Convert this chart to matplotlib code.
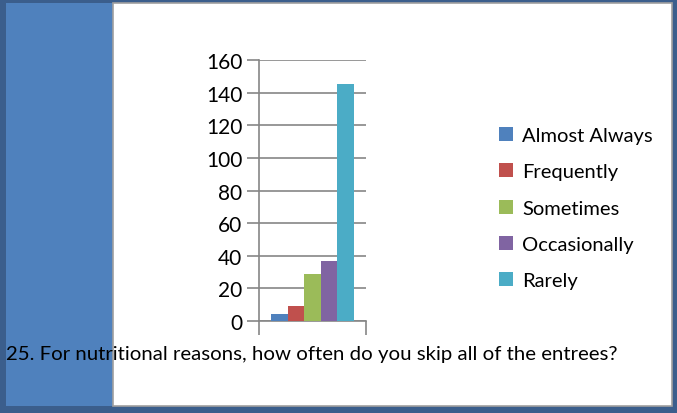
import matplotlib
matplotlib.use("Agg")
import matplotlib.pyplot as plt
from matplotlib.patches import Rectangle

categories = ["Almost Always", "Frequently", "Sometimes", "Occasionally", "Rarely"]
values = [4, 9, 29, 37, 145]
colors = ["#4F81BD", "#C0504D", "#9BBB59", "#8064A2", "#4BACC6"]
yticks = [0, 20, 40, 60, 80, 100, 120, 140, 160]
title = "25. For nutritional reasons, how often do you skip all of the entrees?"

plt.rcParams['font.family'] = ['Lato', 'DejaVu Sans']

W, H = 677, 414
fig = plt.figure(figsize=(W / 100, H / 100), dpi=100)
fig.patch.set_facecolor("#3B5E8C")

def rect(x0, y0, x1, y1, **kw):
    fig.patches.append(Rectangle((x0 / W, 1 - y1 / H), (x1 - x0) / W, (y1 - y0) / H,
                                 transform=fig.transFigure, figure=fig, zorder=-5, **kw))

rect(6, 4, 113, 407, facecolor="#4F81BD", edgecolor="none")
rect(113, 4, 672, 407, facecolor="white", edgecolor="#A0A0A0", linewidth=1.2)

ax = fig.add_axes([259 / W, 1 - 322 / H, 107 / W, 261 / H])
ax.set_zorder(2)
ax.set_facecolor("none")
bw = 0.155
n = len(values)
for i, (c, v, col) in enumerate(zip(categories, values, colors)):
    ax.bar((i - (n - 1) / 2) * bw, v, width=bw, color=col, label=c, zorder=3)

ax.set_xlim(-0.5, 0.5)
ax.set_ylim(0, 160)
ax.set_yticks(yticks)
ax.set_yticklabels([str(t) for t in yticks], fontsize=15)
ax.set_xticks([-0.5, 0.5])
ax.set_xticklabels(["", ""])
ax.tick_params(axis="y", direction="out", length=9, width=1.2, color="#868686", pad=3)
ax.tick_params(axis="x", direction="out", length=10, width=1.2, color="#868686")
ax.yaxis.grid(True, color="#868686", linewidth=1.2, zorder=0)
for s in ["top", "right"]:
    ax.spines[s].set_visible(False)
for s in ["left", "bottom"]:
    ax.spines[s].set_color("#868686")
    ax.spines[s].set_linewidth(1.2)

handles, labels = ax.get_legend_handles_labels()
fig.legend(handles, labels, loc="upper left", bbox_to_anchor=(481 / W, 1 - 110 / H),
           frameon=False, fontsize=14.5, handlelength=0.7, handleheight=0.7,
           handletextpad=0.45, labelspacing=0.95)

fig.text(6 / W, 1 - 355 / H, title, fontsize=14.7, ha="left", va="center")

fig.savefig("out.png", dpi=100, facecolor=fig.get_facecolor())
